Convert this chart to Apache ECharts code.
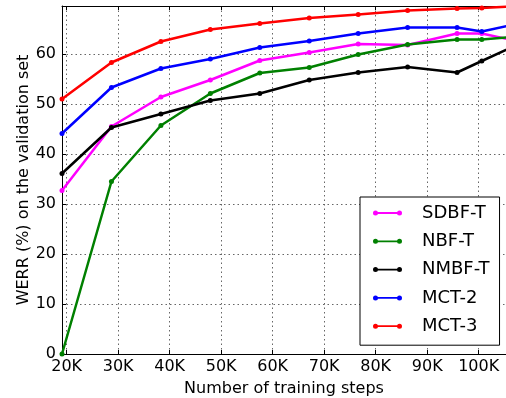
<!DOCTYPE html>
<html>
<head>
<meta charset="utf-8">
<script src="https://cdn.jsdelivr.net/npm/echarts@6/dist/echarts.min.js"></script>
<style>
  html, body { margin: 0; padding: 0; background: #fff; }
  #chart { width: 506px; height: 398px; }
</style>
</head>
<body>
<div id="chart"></div>
<script>
  // training steps, in thousands
  var steps = [19.1, 28.7, 38.3, 47.9, 57.5, 67.1, 76.6, 86.2, 95.8, 100.6, 106.5];

  // WERR (%) on the validation set
  var sdbfT = [32.7, 45.5, 51.4, 54.8, 58.7, 60.3, 62.0, 61.8, 64.1, 64.1, 62.8];
  var nbfT  = [0.0, 34.5, 45.7, 52.1, 56.2, 57.3, 59.9, 61.9, 62.9, 62.9, 63.4];
  var nmbfT = [36.1, 45.3, 48.0, 50.7, 52.1, 54.8, 56.3, 57.4, 56.3, 58.6, 61.4];
  var mct2  = [44.1, 53.3, 57.1, 59.0, 61.3, 62.6, 64.1, 65.3, 65.3, 64.5, 65.8];
  var mct3  = [51.0, 58.3, 62.5, 64.9, 66.1, 67.2, 67.9, 68.7, 69.1, 69.2, 69.5];

  var names = ['SDBF-T', 'NBF-T', 'NMBF-T', 'MCT-2', 'MCT-3'];
  var colors = ['#ff00ff', '#008000', '#000000', '#0000ff', '#ff0000'];
  var values = [sdbfT, nbfT, nmbfT, mct2, mct3];

  var font = 'DejaVu Sans';
  // line with a dot at each end, for the legend
  var legendIcon = 'path://M2.5,3.6 L26.5,3.6 L26.5,5.4 L2.5,5.4 Z' +
    ' M5,4.5 A2.5,2.5 0 1,1 0,4.5 A2.5,2.5 0 1,1 5,4.5 Z' +
    ' M29,4.5 A2.5,2.5 0 1,1 24,4.5 A2.5,2.5 0 1,1 29,4.5 Z';

  var chart = echarts.init(document.getElementById('chart'));

  var series = names.map(function (n, i) {
    return {
      name: n,
      type: 'line',
      data: steps.map(function (s, j) { return [s, values[i][j]]; }),
      symbol: 'circle',
      symbolSize: 5,
      color: colors[i],
      lineStyle: { width: 2.5, color: colors[i] },
      itemStyle: { color: colors[i] },
      clip: true,
      animation: false,
      z: 2 + i
    };
  });

  chart.setOption({
    animation: false,
    textStyle: { fontFamily: font },
    grid: { left: 62, right: 0, top: 6, bottom: 44, outerBoundsMode: 'none', containLabel: false },
    legend: {
      orient: 'vertical',
      left: 360,
      top: 197,
      padding: [7, 10, 10, 13],
      itemGap: 10.3,
      itemWidth: 29,
      itemHeight: 9,
      icon: legendIcon,
      borderColor: '#000',
      borderWidth: 1,
      borderRadius: 0,
      backgroundColor: '#fff',
      selectedMode: false,
      textStyle: { fontFamily: font, fontSize: 18, color: '#000', lineHeight: 18, padding: [0, 0, 0, 15] },
      data: names
    },
    xAxis: [{
      type: 'value',
      min: 19.1,
      max: 105.3,
      splitNumber: 8,
      name: 'Number of training steps',
      nameLocation: 'middle',
      nameGap: 27,
      nameMoveOverlap: false,
      nameTextStyle: { fontFamily: font, fontSize: 16, color: '#000' },
      axisLine: { lineStyle: { color: '#000', width: 1 } },
      axisTick: { inside: true, length: 4, lineStyle: { color: '#000' } },
      axisLabel: {
        fontFamily: font, fontSize: 16, color: '#000', margin: 5,
        showMinLabel: false, showMaxLabel: false,
        formatter: function (v) { return Math.round(v) + 'K'; }
      },
      splitLine: { show: true, showMinLine: false, showMaxLine: false, lineStyle: { color: '#666', type: [1.5, 3], width: 1 } }
    }, {
      type: 'value',
      position: 'top',
      min: 19.1,
      max: 105.3,
      splitNumber: 8,
      axisLine: { show: true, lineStyle: { color: '#000', width: 1 } },
      axisTick: { show: true, inside: true, length: 4, lineStyle: { color: '#000' } },
      axisLabel: { show: false },
      splitLine: { show: false }
    }],
    yAxis: {
      type: 'value',
      min: 0,
      max: 69.6,
      interval: 10,
      name: 'WERR (%) on the validation set',
      nameLocation: 'middle',
      nameGap: 30,
      nameMoveOverlap: false,
      nameTextStyle: { fontFamily: font, fontSize: 16, color: '#000' },
      axisLine: { show: true, lineStyle: { color: '#000', width: 1 } },
      axisTick: { show: true, inside: true, length: 4, lineStyle: { color: '#000' } },
      axisLabel: { fontFamily: font, fontSize: 16, color: '#000', margin: 6, showMaxLabel: false },
      splitLine: { show: true, showMinLine: false, showMaxLine: false, lineStyle: { color: '#666', type: [1.5, 3], width: 1 } }
    },
    series: series
  });
</script>
</body>
</html>
